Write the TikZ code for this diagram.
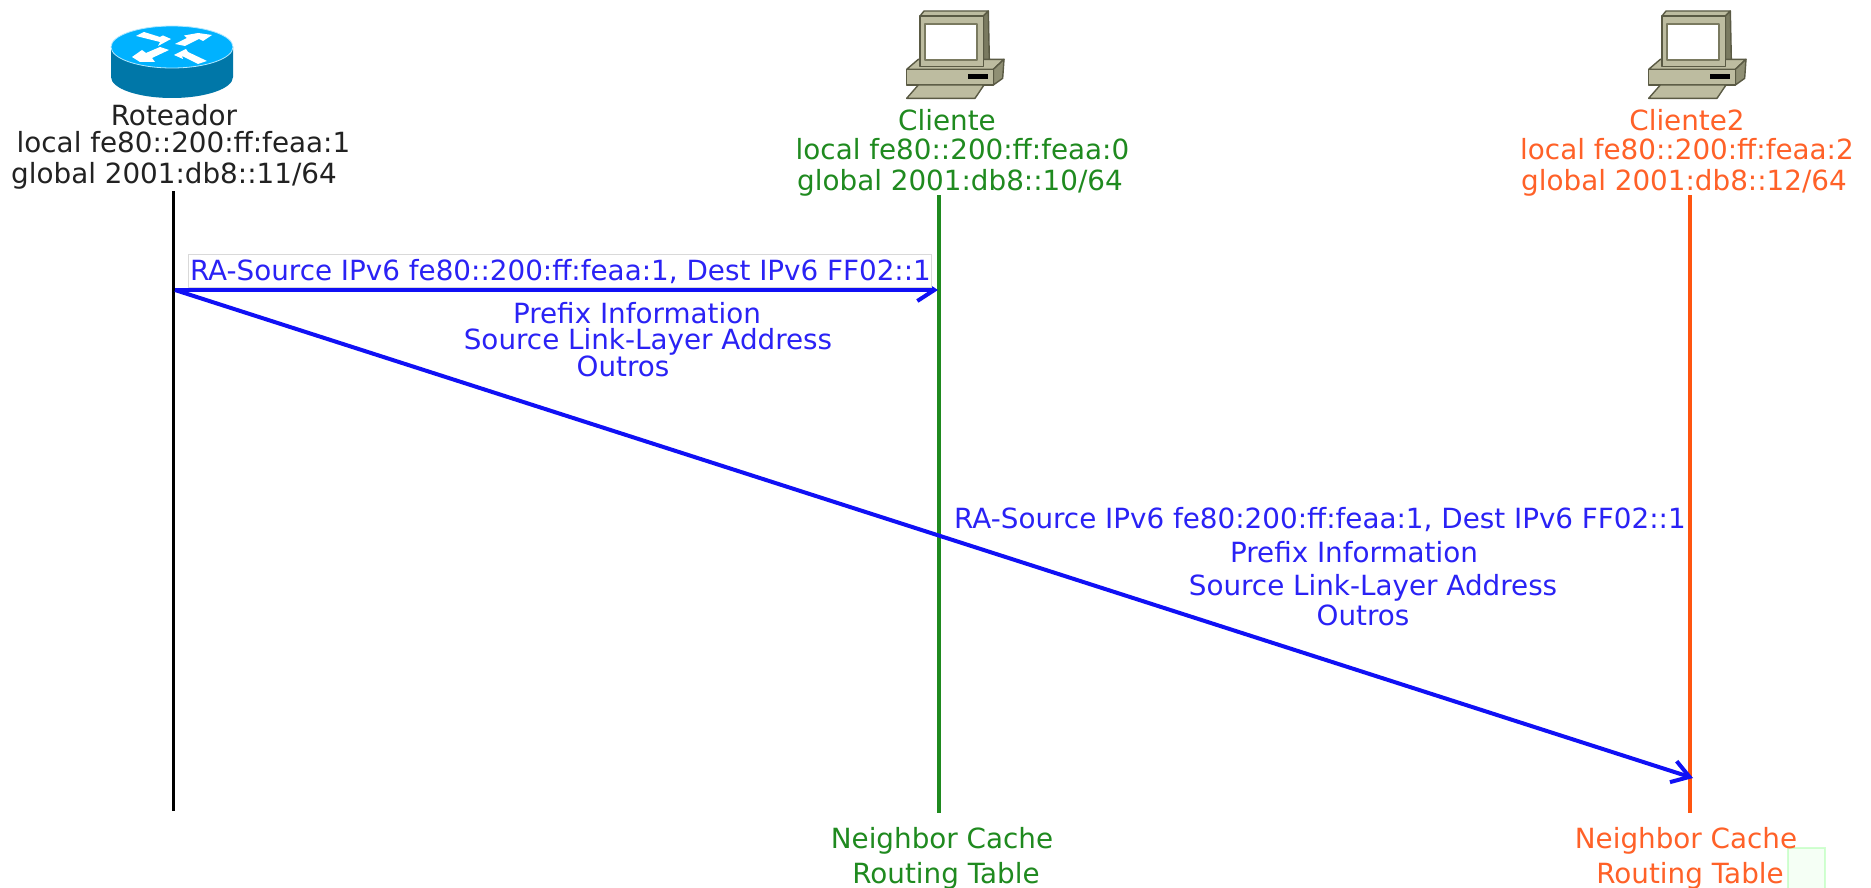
\documentclass[tikz,border=0pt]{standalone}
\usepackage{fontspec}
\setmainfont{DejaVu Sans}
\usetikzlibrary{arrows.meta}
\definecolor{ink}{HTML}{222222}
\definecolor{grn}{HTML}{1F8A1F}
\definecolor{org}{HTML}{FF6128}
\definecolor{orgl}{HTML}{FF5510}
\definecolor{blutx}{HTML}{2A22F5}
\definecolor{bluar}{HTML}{1010F5}
\definecolor{rtop}{HTML}{00B2FF}
\definecolor{rside}{HTML}{0077A8}
\definecolor{pcf}{HTML}{BDBCA0}
\definecolor{pcd}{HTML}{7A7A60}
\definecolor{pcs}{HTML}{8F8F74}
\definecolor{pco}{HTML}{5A5A44}
\tikzset{
 lbl/.style={anchor=base,inner sep=0pt,font=\fontsize{27.8}{27.8}\selectfont},
 blk/.style={lbl,text=ink},
 gn/.style={lbl,text=grn},
 og/.style={lbl,text=org},
 bl/.style={lbl,text=blutx},
 life/.style={line width=3.8pt},
 msg/.style={draw=bluar,line width=4pt,-{Straight Barb[length=17pt,width=22pt,line width=4pt]}},
 computer/.pic={
  \begin{scope}[scale=1/3,draw=pco,line width=1.4pt,line join=round]
   \filldraw[fill=pcf] (420,48)--(432,33)--(625,33)--(610,48)--cycle;
   \filldraw[fill=pcd] (610,48)--(625,33)--(628,180)--(610,200)--cycle;
   \filldraw[fill=pcf] (380,208)--(415,178)--(672,178)--(640,208)--cycle;
   \filldraw[fill=pcs] (640,208)--(672,178)--(668,235)--(640,255)--cycle;
   \filldraw[fill=pcf] (380,208) rectangle (640,255);
   \fill[black] (565,222) rectangle (625,236);
   \filldraw[fill=pcf] (420,48) rectangle (610,200);
   \filldraw[fill=white,line width=2pt,draw=pcd] (435,72) rectangle (590,180);
   \filldraw[fill=pcf] (380,295)--(415,255)--(612,255)--(585,295)--cycle;
  \end{scope}
 },
 routericon/.pic={
  \fill[rside] (111,47)--(111,77) arc[start angle=180,end angle=0,x radius=61,y radius=21]--(233,47)--cycle;
  \fill[rtop,draw=white!70!rtop,line width=.8pt] (172,47) ellipse[x radius=61,y radius=21];
  \begin{scope}[fill=white]
   \fill (136,36)--(144,32)--(160,37)--(163,35.5)--(171,39)--(158,46)--(160,42)--cycle;
   \fill (175,44)--(187,38)--(184,35.5)--(198,33)--(212,35)--(203,41)--(199,39)--(185,46)--cycle;
   \fill (132,57)--(142,50)--(146,53)--(160,47)--(169,50)--(152,58)--(155,62)--(140,62)--cycle;
   \fill (174,55)--(186,49)--(188,52)--(207,61)--(198,64)--(182,56)--(183,59)--cycle;
  \end{scope}
 }
}
\begin{document}
\begin{tikzpicture}[x=1pt,y=-1pt]
\useasboundingbox (0,0) rectangle (1871,888);
\fill[white] (0,0) rectangle (1871,888);
\pic (rt) at (0,0) {routericon};
\pic (pc1) at (780,0) {computer};
\pic (pc2) at (1522,0) {computer};
\coordinate (rtop) at (173.5,191);
\coordinate (rbot) at (173.5,811);
\coordinate (gtop) at (939,195);
\coordinate (gbot) at (939,813);
\coordinate (otop) at (1690,195);
\coordinate (obot) at (1690,813);
\coordinate (src) at (175,290);
\coordinate (dst1) at (938,290);
\coordinate (dst2) at (1693,778);
\draw[life,black] (rtop) -- (rbot);
\draw[life,grn] (gtop) -- (gbot);
\draw[life,orgl] (otop) -- (obot);
\node[blk] (r1) at (174,126) {Roteador};
\node[blk] (r2) at (183.5,153) {local fe80::200:ff:feaa:1};
\node[blk] (r3) at (174,183) {global 2001:db8::11/64};
\node[gn] (c1) at (947,131) {Cliente};
\node[gn] (c2) at (962.5,159) {local fe80::200:ff:feaa:0};
\node[gn] (c3) at (960,190) {global 2001:db8::10/64};
\node[og] (d1) at (1687,131) {Cliente2};
\node[og] (d2) at (1687,159) {local fe80::200:ff:feaa:2};
\node[og] (d3) at (1684,190) {global 2001:db8::12/64};
\draw[msg] (src) -- (dst1);
\draw[msg] (src) -- (dst2);
\node[draw=black!15,fill=white,line width=.8pt,minimum width=743pt,minimum height=33pt,inner sep=0pt] (box) at (559.5,271) {};
\node[bl] (m1) at (560.5,280) {RA-Source IPv6 fe80::200:ff:feaa:1, Dest IPv6 FF02::1};
\node[bl] (m2) at (637,323) {Prefix Information};
\node[bl] (m3) at (648,349) {Source Link-Layer Address};
\node[bl] (m4) at (623,376) {Outros};
\node[bl] (n1) at (1320,528) {RA-Source IPv6 fe80:200:ff:feaa:1, Dest IPv6 FF02::1};
\node[bl] (n2) at (1354,562) {Prefix Information};
\node[bl] (n3) at (1373,595) {Source Link-Layer Address};
\node[bl] (n4) at (1363,625) {Outros};
\node[gn] (g1) at (942,848) {Neighbor Cache};
\node[gn] (g2) at (946,883) {Routing Table};
\draw[draw=green!50!white,draw opacity=.35,fill=green!4,line width=1.5pt] (1788,848) rectangle (1825,890);
\node[og] (o1) at (1686,848) {Neighbor Cache};
\node[og] (o2) at (1690,883) {Routing Table};
\end{tikzpicture}
\end{document}
